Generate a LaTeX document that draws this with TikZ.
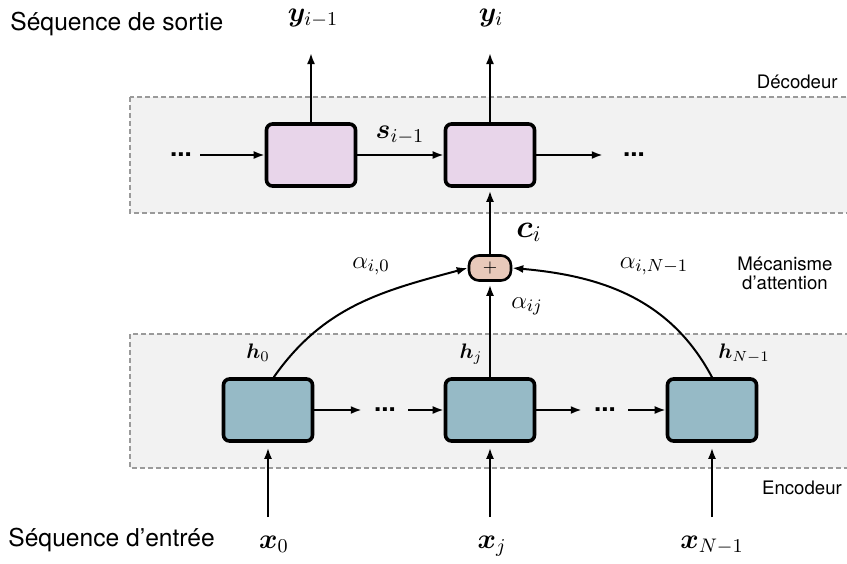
\RequirePackage{fix-cm}
\documentclass[tikz,border=0pt]{standalone}
\usepackage[no-math]{fontspec}
\setmainfont{TeX Gyre Heros}
\usepackage{amsmath,bm}
\usetikzlibrary{arrows.meta,positioning}
\definecolor{decfill}{HTML}{E8D5EA}
\definecolor{encfill}{HTML}{96BAC6}
\definecolor{plusfill}{HTML}{E8C9BA}
\definecolor{bandfill}{HTML}{F2F2F2}
\definecolor{bandline}{HTML}{9A9A9A}
\begin{document}
\begin{tikzpicture}[x=0.5pt,y=-0.5pt,every node/.style={inner sep=0pt},
    dec/.style={draw,line width=1.8pt,rounded corners=3pt,fill=decfill,minimum width=44.5pt,minimum height=31pt},
    enc/.style={dec,fill=encfill},
    plus/.style={draw,line width=1.3pt,rounded corners=5pt,fill=plusfill,minimum width=21pt,minimum height=12.5pt,font=\small},
    band/.style={draw=bandline,fill=bandfill,line width=0.6pt,dash pattern=on 2.5pt off 1.5pt},
    arr/.style={-{Latex[length=5.5pt,width=4pt]},line width=1pt},
    dots/.style={inner xsep=6pt,font=\fontsize{13}{15}\selectfont\bfseries},
    vec/.style={anchor=base,font=\fontsize{14}{16}\selectfont},
    hvec/.style={anchor=base,font=\fontsize{10.5}{12}\selectfont},
    alph/.style={anchor=base,font=\fontsize{12.5}{14}\selectfont},
    side/.style={font=\fontsize{12.3}{14}\selectfont},
    tag/.style={font=\fontsize{9.3}{9.5}\selectfont}]
    \useasboundingbox (0,0) rectangle (847,563);
    \clip (0,0) rectangle (847,563);
    \path[band] (130,97) rectangle (852,213);
    \path[band] (130,334) rectangle (852,468);
    \node[tag,anchor=east] (dectag) at (838,82) {Décodeur};
    \node[tag,align=center] (atttag) at (785,273) {Mécanisme\\d’attention};
    \node[tag] (enctag) at (802,488) {Encodeur};
    \node[side,anchor=west] (outseq) at (10,24) {Séquence de sortie};
    \node[side,anchor=west] (inseq) at (8,540) {Séquence d’entrée};
    \node[dec] (d1) at (311,155) {};
    \node[dec,right of=d1,node distance=89.5pt] (d2) {};
    \node[dots] (dl) at (181,155) {...};
    \node[dots] (dr) at (634,155) {...};
    \node[enc] (e1) at (268,410) {};
    \node[enc,right of=e1,node distance=111pt] (e2) {};
    \node[enc,right of=e2,node distance=111pt] (e3) {};
    \node[dots] (m1) at (385,410) {...};
    \node[dots] (m2) at (605,410) {...};
    \node[plus] (p) at (490,268) {$+$};
    \coordinate (o1) at (311,53);
    \coordinate (o2) at (490,53);
    \coordinate (i1) at (268,517);
    \coordinate (i2) at (490,517);
    \coordinate (i3) at (712,517);
    \node[vec] (y1) at (313,21) {$\bm{y}_{i-1}$};
    \node[vec] (y2) at (491,21) {$\bm{y}_i$};
    \node[vec] (s) at (400,138) {$\bm{s}_{i-1}$};
    \node[vec,font=\fontsize{16}{18}\selectfont] (c) at (529,237) {$\bm{c}_i$};
    \node[alph] (a0) at (371,268) {$\alpha_{i,0}$};
    \node[alph] (aj) at (527,308) {$\alpha_{ij}$};
    \node[alph] (aN) at (654,268) {$\alpha_{i,N-1}$};
    \node[hvec] (h0) at (258,358) {$\bm{h}_0$};
    \node[hvec] (hj) at (471,358) {$\bm{h}_j$};
    \node[hvec] (hN) at (744,358) {$\bm{h}_{N-1}$};
    \node[vec] (x0) at (274,548) {$\bm{x}_0$};
    \node[vec] (xj) at (492,548) {$\bm{x}_j$};
    \node[vec] (xN) at (712,548) {$\bm{x}_{N-1}$};
    \draw[arr,shorten <=-2pt] (dl) -- (d1);
    \draw[arr] (d1) -- (d2);
    \draw[arr,shorten >=4pt] (d2) -- (dr);
    \draw[arr] (d1) -- (o1);
    \draw[arr] (d2) -- (o2);
    \draw[arr] (e1) -- (m1);
    \draw[arr] (m1) -- (e2);
    \draw[arr] (e2) -- (m2);
    \draw[arr] (m2) -- (e3);
    \draw[arr,shorten >=2.5pt] (i1) -- (e1);
    \draw[arr,shorten >=2.5pt] (i2) -- (e2);
    \draw[arr,shorten >=2.5pt] (i3) -- (e3);
    \draw[arr,shorten >=1.5pt] (e2) -- (p);
    \draw[arr,shorten >=1.5pt] (p) -- (d2);
    \draw[arr] (e1.80) to[out=55,in=195] (p.west);
    \draw[arr] (e3.north) to[out=118,in=-5] (p.east);
\end{tikzpicture}
\end{document}
